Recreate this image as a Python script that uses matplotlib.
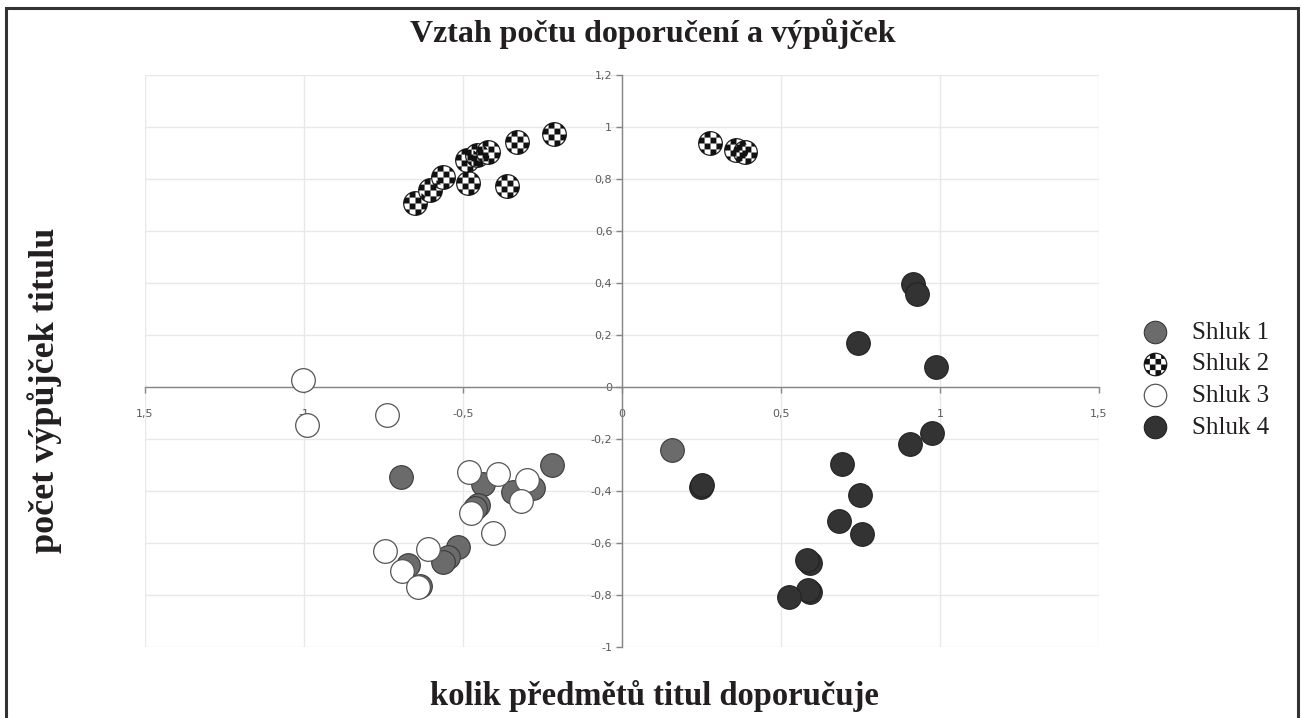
import numpy as np
import matplotlib
matplotlib.use("Agg")
import matplotlib.pyplot as plt
from matplotlib.path import Path
from matplotlib.patches import Rectangle
from matplotlib.legend_handler import HandlerTuple

# ---- data ----
title = "Vztah počtu doporučení a výpůjček"
x_label = "kolik předmětů titul doporučuje"
y_label = "počet výpůjček titulu"

shluk1_x = [-0.695, -0.220, -0.437, -0.343, -0.280, -0.453, -0.462,
            -0.516, -0.547, -0.563, -0.673, -0.635, 0.157]
shluk1_y = [-0.346, -0.300, -0.373, -0.404, -0.388, -0.454, -0.465,
            -0.615, -0.654, -0.673, -0.685, -0.765, -0.242]

shluk2_x = [-0.651, -0.604, -0.563, -0.484, -0.487, -0.456, -0.421,
            -0.330, -0.214, -0.362, 0.277, 0.360, 0.387]
shluk2_y = [0.708, 0.758, 0.808, 0.785, 0.873, 0.892, 0.904,
            0.942, 0.973, 0.773, 0.938, 0.912, 0.904]

shluk3_x = [-0.481, -0.390, -0.299, -0.318, -0.475, -0.405, -0.610,
            -0.745, -0.692, -0.641, -1.003, -0.739, -0.991]
shluk3_y = [-0.327, -0.335, -0.358, -0.438, -0.485, -0.561, -0.623,
            -0.631, -0.708, -0.769, 0.027, -0.108, -0.146]

shluk4_x = [0.248, 0.252, 0.692, 0.748, 0.682, 0.755, 0.591, 0.582,
            0.591, 0.585, 0.525, 0.906, 0.975, 0.915, 0.928, 0.742, 0.987]
shluk4_y = [-0.385, -0.378, -0.296, -0.415, -0.515, -0.565, -0.677, -0.665,
            -0.788, -0.780, -0.808, -0.219, -0.177, 0.396, 0.358, 0.169, 0.077]

x_ticks = [-1.5, -1, -0.5, 0, 0.5, 1, 1.5]
x_tick_labels = ["1,5", "-1", "-0,5", "0", "0,5", "1", "1,5"]
y_ticks = [-1, -0.8, -0.6, -0.4, -0.2, 0, 0.2, 0.4, 0.6, 0.8, 1, 1.2]
y_tick_labels = ["-1", "-0,8", "-0,6", "-0,4", "-0,2", "0",
                 "0,2", "0,4", "0,6", "0,8", "1", "1,2"]
legend_labels = ["Shluk 1", "Shluk 2", "Shluk 3", "Shluk 4"]


def clip_polygon(poly, x0, x1, y0, y1):
    # Sutherland-Hodgman clip of a polygon to an axis-aligned box
    def clip(points, inside, intersect):
        out = []
        for i in range(len(points)):
            cur, prev = points[i], points[i - 1]
            if inside(cur):
                if not inside(prev):
                    out.append(intersect(prev, cur))
                out.append(cur)
            elif inside(prev):
                out.append(intersect(prev, cur))
        return out

    def ix(p, q, xv):
        t = (xv - p[0]) / (q[0] - p[0])
        return (xv, p[1] + t * (q[1] - p[1]))

    def iy(p, q, yv):
        t = (yv - p[1]) / (q[1] - p[1])
        return (p[0] + t * (q[0] - p[0]), yv)

    pts = list(poly)
    pts = clip(pts, lambda p: p[0] >= x0, lambda p, q: ix(p, q, x0))
    if pts:
        pts = clip(pts, lambda p: p[0] <= x1, lambda p, q: ix(p, q, x1))
    if pts:
        pts = clip(pts, lambda p: p[1] >= y0, lambda p, q: iy(p, q, y0))
    if pts:
        pts = clip(pts, lambda p: p[1] <= y1, lambda p, q: iy(p, q, y1))
    return pts


def checker_marker(n=4):
    theta = np.linspace(0, 2 * np.pi, 96, endpoint=False)
    circle = list(zip(np.cos(theta), np.sin(theta)))
    edges = np.linspace(-1, 1, n + 1)
    verts, codes = [], []
    for i in range(n):
        for j in range(n):
            if (i + j) % 2:
                continue
            pts = clip_polygon(circle, edges[i], edges[i + 1], edges[j], edges[j + 1])
            if len(pts) < 3:
                continue
            verts.extend(pts + [pts[0]])
            codes.extend([Path.MOVETO] + [Path.LINETO] * (len(pts) - 1) + [Path.CLOSEPOLY])
    # invisible anchor points so the marker scales like a full circle
    for p in [(1, 0), (-1, 0), (0, 1), (0, -1)]:
        verts.extend([p, p])
        codes.extend([Path.MOVETO, Path.LINETO])
    return Path(verts, codes)


checker = checker_marker()

fig = plt.figure(figsize=(13.01, 7.18), dpi=100)
ax = fig.add_axes([145 / 1301, 1 - 647 / 718, 954 / 1301, 572 / 718])

size = 290
s1 = ax.scatter(shluk1_x, shluk1_y, s=size, c="#6b6b6b", edgecolors="#3a3a3a",
                linewidths=0.8, zorder=3)
s3 = ax.scatter(shluk3_x, shluk3_y, s=size, c="white", edgecolors="#555555",
                linewidths=0.9, zorder=4)
s4 = ax.scatter(shluk4_x, shluk4_y, s=size, c="#333333", edgecolors="#222222",
                linewidths=0.8, zorder=3)
s2a = ax.scatter(shluk2_x, shluk2_y, s=size, c="white", edgecolors="#222222",
                 linewidths=0.9, zorder=3)
s2b = ax.scatter(shluk2_x, shluk2_y, s=size, marker=checker, c="#111111",
                 linewidths=0, zorder=3.1)

ax.set_xlim(-1.5, 1.5)
ax.set_ylim(-1, 1.2)
ax.set_xticks(x_ticks)
ax.set_xticklabels(x_tick_labels)
ax.set_yticks(y_ticks)
ax.set_yticklabels(y_tick_labels)
ax.grid(True, color="#e8e8e8", linewidth=1.0, zorder=0)
ax.set_axisbelow(True)

for side in ["top", "right"]:
    ax.spines[side].set_visible(False)
ax.spines["left"].set_position(("data", 0))
ax.spines["bottom"].set_position(("data", 0))
for side in ["left", "bottom"]:
    ax.spines[side].set_color("#868686")
    ax.spines[side].set_linewidth(1.0)
    ax.spines[side].set_zorder(2)
ax.tick_params(axis="both", direction="out", length=4, width=1.0,
               color="#868686", labelsize=8, labelcolor="#595959")
ax.tick_params(axis="x", pad=12)
ax.tick_params(axis="y", pad=3)
for lbl in ax.get_xticklabels() + ax.get_yticklabels():
    lbl.set_family("DejaVu Sans")

serif = ["Liberation Serif", "DejaVu Serif"]
fig.text(653 / 1301, 1 - 42 / 718, title, ha="center", va="baseline",
         fontsize=23, fontweight="bold", family=serif, color="#231f20")
fig.text(654 / 1301, 1 - 705 / 718, x_label, ha="center", va="baseline",
         fontsize=23.5, fontweight="bold", family=serif, color="#231f20")
fig.text(45 / 1301, 1 - 390 / 718, y_label, ha="center", va="center",
         rotation=90, fontsize=26, fontweight="bold", family=serif, color="#231f20")

leg = fig.legend([s1, (s2a, s2b), s3, s4], legend_labels,
                 handler_map={tuple: HandlerTuple(ndivide=1, pad=0)},
                 loc="center left", bbox_to_anchor=(1122 / 1301, 1 - 380 / 718),
                 frameon=False, prop={"family": serif, "size": 18},
                 labelspacing=0.36, handlelength=1.6, handletextpad=0.7,
                 markerscale=0.95, labelcolor="#231f20", borderpad=0)

fig.patches.append(Rectangle((6 / 1301, -0.05), 1292 / 1301, 1.05 - 8 / 718,
                             transform=fig.transFigure, fill=False,
                             edgecolor="#333333", linewidth=2.2))

fig.savefig("out.png", dpi=100)
